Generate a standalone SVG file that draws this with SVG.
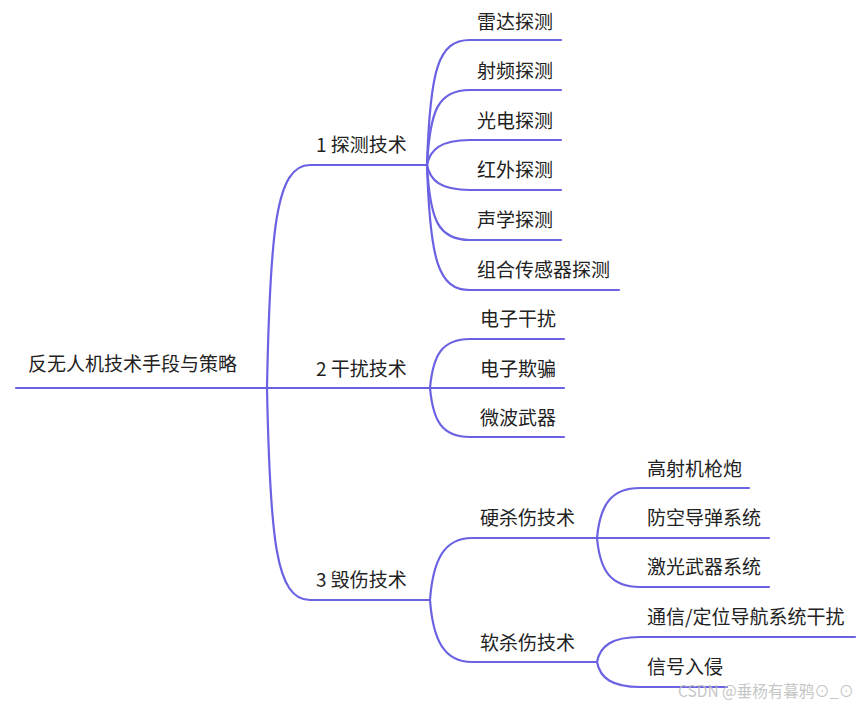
<svg xmlns="http://www.w3.org/2000/svg" width="865" height="706" viewBox="0 0 865 706">
<style>
.c{fill:none;stroke:#6a62e2;stroke-width:2.2;stroke-linecap:round}
.t{font-family:"Noto Sans CJK SC","Noto Sans",sans-serif;font-size:19px;fill:#222}
.w{font-family:"Noto Sans CJK SC","Liberation Sans",sans-serif;font-size:16px;fill:#bdbdbd;opacity:0.85}
</style>
<rect width="865" height="706" fill="#fff"/>
<g id="connectors">
<path class="c" d="M16,388H267"/>
<path class="c" d="M267,388C270,230 276,165 310,165H427"/>
<path class="c" d="M267,388H430"/>
<path class="c" d="M267,388C270,540 276,600 310,600H430"/>
<path class="c" d="M427,165C430,70 438,40 470,40H561"/>
<path class="c" d="M427,165C430,110 438,90 470,90H561"/>
<path class="c" d="M427,165C430,150 440,140 470,140H561"/>
<path class="c" d="M427,165C430,180 440,190 470,190H561"/>
<path class="c" d="M427,165C430,220 438,240 470,240H561"/>
<path class="c" d="M427,165C430,260 438,290 470,290H619"/>
<path class="c" d="M430,388C433,355 442,339 470,339H564"/>
<path class="c" d="M430,388H564"/>
<path class="c" d="M430,388C433,421 442,437 470,437H564"/>
<path class="c" d="M430,600C433,560 444,538 472,538H597"/>
<path class="c" d="M430,600C433,640 444,662 472,662H597"/>
<path class="c" d="M597,538C600,505 611,488 640,488H749"/>
<path class="c" d="M597,538H769"/>
<path class="c" d="M597,538C600,571 611,587 640,587H769"/>
<path class="c" d="M597,662C600,646 612,637 640,637H855"/>
<path class="c" d="M597,662C600,678 612,687 640,687H727"/>
</g>
<g id="root"><text class="t" x="28" y="371">反无人机技术手段与策略</text></g>
<g id="n1"><text class="t" x="316" y="152">1 探测技术</text></g>
<g id="n2"><text class="t" x="316" y="376">2 干扰技术</text></g>
<g id="n3"><text class="t" x="316" y="587">3 毁伤技术</text></g>
<g id="n1-1"><text class="t" x="477" y="29">雷达探测</text></g>
<g id="n1-2"><text class="t" x="477" y="78">射频探测</text></g>
<g id="n1-3"><text class="t" x="477" y="128">光电探测</text></g>
<g id="n1-4"><text class="t" x="477" y="177">红外探测</text></g>
<g id="n1-5"><text class="t" x="477" y="227">声学探测</text></g>
<g id="n1-6"><text class="t" x="477" y="277">组合传感器探测</text></g>
<g id="n2-1"><text class="t" x="480" y="326">电子干扰</text></g>
<g id="n2-2"><text class="t" x="480" y="376">电子欺骗</text></g>
<g id="n2-3"><text class="t" x="480" y="425">微波武器</text></g>
<g id="n3-1"><text class="t" x="480" y="525">硬杀伤技术</text></g>
<g id="n3-2"><text class="t" x="480" y="650">软杀伤技术</text></g>
<g id="n3-1-1"><text class="t" x="647" y="476">高射机枪炮</text></g>
<g id="n3-1-2"><text class="t" x="647" y="525">防空导弹系统</text></g>
<g id="n3-1-3"><text class="t" x="647" y="574">激光武器系统</text></g>
<g id="n3-2-1"><text class="t" x="647" y="624">通信/定位导航系统干扰</text></g>
<g id="n3-2-2"><text class="t" x="647" y="674">信号入侵</text></g>
<text class="w" x="678" y="697" textLength="176" lengthAdjust="spacingAndGlyphs">CSDN @垂杨有暮鸦⊙_⊙</text>
</svg>
